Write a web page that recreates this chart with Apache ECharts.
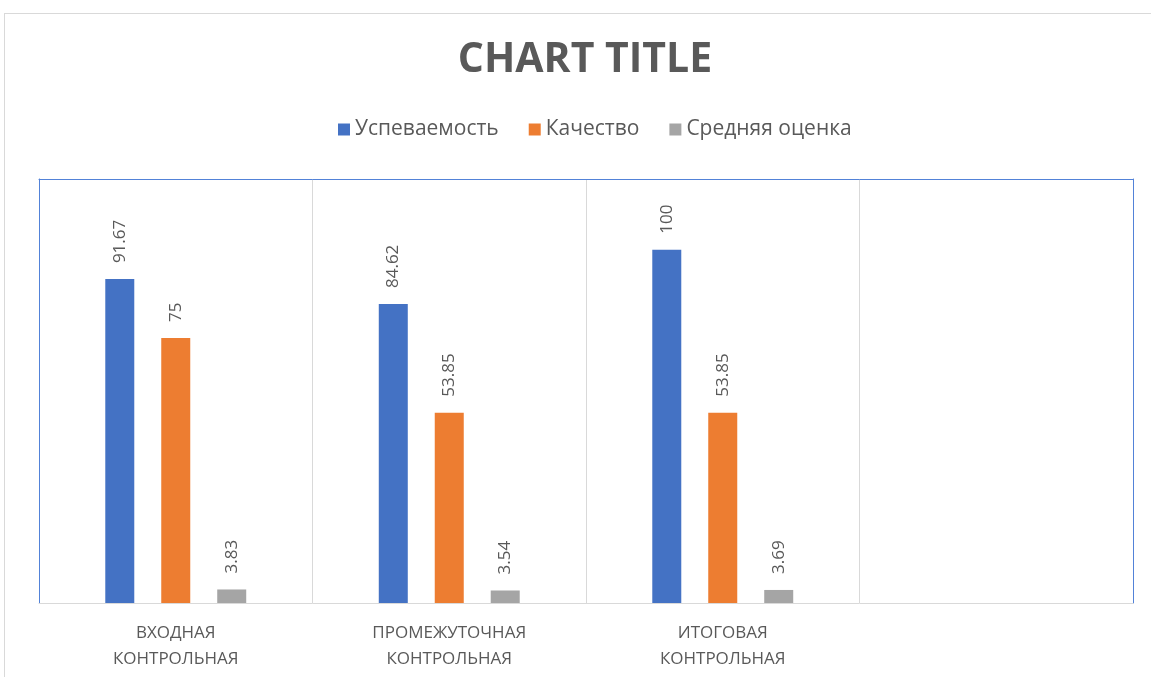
<!DOCTYPE html>
<html>
<head>
<meta charset="utf-8">
<script src="https://cdn.jsdelivr.net/npm/echarts@6/dist/echarts.min.js"></script>
<style>
  html, body { margin: 0; padding: 0; background: #fff; overflow: hidden; width: 1151px; height: 677px; }
  /* рамка области диаграммы */
  #frame { position: absolute; left: 4px; top: 13px; width: 1200px; height: 700px; border: 1px solid #d9d9d9; }
  #chart { position: absolute; left: 0; top: 0; width: 1170px; height: 677px; }
</style>
</head>
<body>
<div id="frame"></div>
<div id="chart"></div>
<script>
  const categories = ['ВХОДНАЯ\nКОНТРОЛЬНАЯ', 'ПРОМЕЖУТОЧНАЯ\nКОНТРОЛЬНАЯ', 'ИТОГОВАЯ\nКОНТРОЛЬНАЯ', ''];
  const uspevaemost = [91.67, 84.62, 100, null];
  const kachestvo = [75, 53.85, 53.85, null];
  const srednyaya = [3.83, 3.54, 3.69, null];

  const textColor = '#595959';
  const fontFamily = '"Open Sans", "Noto Sans", sans-serif';
  const borderBlue = '#5282D8';

  const labelStyle = {
    show: true,
    position: 'top',
    rotate: 90,
    align: 'left',
    verticalAlign: 'middle',
    distance: 16,
    color: textColor,
    fontSize: 17,
    fontFamily: fontFamily,
  };

  function makeSeries(name, data, color) {
    return {
      name: name,
      type: 'bar',
      data: data,
      barWidth: 29,
      barGap: '93%',
      itemStyle: { color: color },
      label: labelStyle,
    };
  }

  const chart = echarts.init(document.getElementById('chart'));
  chart.setOption({
    animation: false,
    title: {
      text: 'CHART TITLE',
      left: 'center',
      top: 35,
      textStyle: { color: textColor, fontSize: 41, fontWeight: 'bold', fontFamily: fontFamily },
    },
    legend: {
      top: 114,
      left: 333,
      icon: 'rect',
      itemWidth: 12,
      itemHeight: 12,
      itemGap: 30,
      textStyle: { color: textColor, fontSize: 21, fontFamily: fontFamily },
    },
    grid: {
      left: 39,
      right: 37,
      top: 179,
      bottom: 74,
    },
    xAxis: [
      {
        type: 'category',
        data: categories,
        axisLine: { show: true, onZero: false, lineStyle: { color: '#d9d9d9', width: 1 } },
        axisTick: { show: false },
        splitLine: { show: true, interval: 0, showMinLine: false, showMaxLine: false, lineStyle: { color: '#d9d9d9', width: 1 } },
        axisLabel: {
          interval: 0,
          margin: 17,
          color: textColor,
          fontSize: 17,
          lineHeight: 26,
          fontFamily: fontFamily,
        },
      },
      {
        // верхняя граница области построения
        type: 'category',
        position: 'top',
        data: categories,
        axisLine: { show: true, onZero: false, lineStyle: { color: borderBlue, width: 1 } },
        axisTick: { show: false },
        axisLabel: { show: false },
        splitLine: { show: false },
      },
    ],
    yAxis: [
      {
        type: 'value',
        min: 0,
        max: 120,
        interval: 20,
        axisLabel: { show: false },
        axisLine: { show: true, onZero: false, lineStyle: { color: borderBlue, width: 1 } },
        axisTick: { show: false },
        splitLine: { show: false },
      },
      {
        type: 'value',
        position: 'right',
        min: 0,
        max: 120,
        interval: 20,
        axisLabel: { show: false },
        axisLine: { show: true, onZero: false, lineStyle: { color: borderBlue, width: 1 } },
        axisTick: { show: false },
        splitLine: { show: false },
      },
    ],
    series: [
      makeSeries('Успеваемость', uspevaemost, '#4472C4'),
      makeSeries('Качество', kachestvo, '#ED7D31'),
      makeSeries('Средняя оценка', srednyaya, '#A5A5A5'),
    ],
  });
</script>
</body>
</html>
